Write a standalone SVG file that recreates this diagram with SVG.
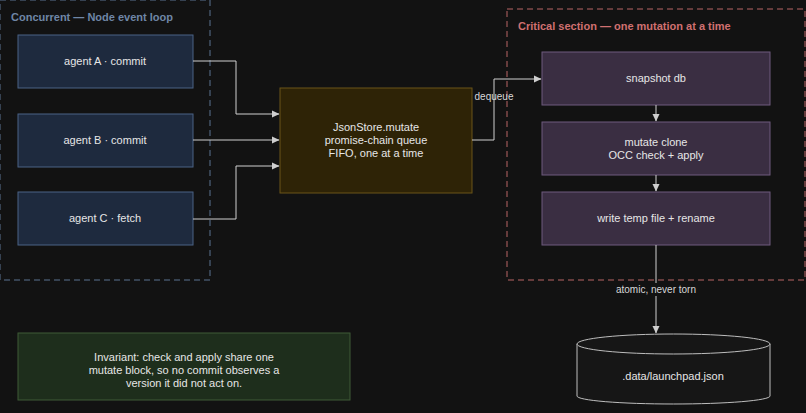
<svg xmlns="http://www.w3.org/2000/svg" width="806" height="413" viewBox="0 0 806 413">
<style>
text{font-family:"Liberation Sans",Arial,sans-serif;font-size:11px;fill:#e6e6e6;text-anchor:middle}
.agent{fill:#1e2a3e;stroke:#4a6285;stroke-width:1}
.step{fill:#3a2e42;stroke:#6e5a7e;stroke-width:1}
.edge{fill:none;stroke:#cfcfcf;stroke-width:1}
.lbl{font-size:10px;fill:#d8d8d8}
</style>
<defs><marker id="ah" markerWidth="8" markerHeight="8" refX="7" refY="4" orient="auto" markerUnits="userSpaceOnUse"><path d="M0,0.5L7.5,4L0,7.5z" fill="#cfcfcf"/></marker></defs>
<rect width="806" height="413" fill="#121212"/>
<g id="cluster-concurrent"><rect x="0" y="0" width="210" height="280" fill="none" stroke="#5b7391" stroke-dasharray="6,4"/>
<text x="11" y="21" style="text-anchor:start;font-weight:bold;fill:#6f86a6">Concurrent — Node event loop</text></g>
<g id="cluster-critical"><rect x="507" y="9" width="298" height="271" fill="none" stroke="#b86464" stroke-dasharray="6,4"/>
<text x="518" y="30" style="text-anchor:start;font-weight:bold;fill:#d07070">Critical section — one mutation at a time</text></g>
<g id="agentA"><rect class="agent" x="18" y="35" width="175" height="53"/><text x="105" y="65">agent A · commit</text></g>
<g id="agentB"><rect class="agent" x="18" y="114" width="175" height="53"/><text x="105" y="144">agent B · commit</text></g>
<g id="agentC"><rect class="agent" x="18" y="192" width="175" height="53"/><text x="105" y="222">agent C · fetch</text></g>
<g id="queue"><rect x="280" y="88" width="192" height="105" fill="#2e2306" stroke="#6a5418"/>
<text x="376" y="131">JsonStore.mutate</text><text x="376" y="144">promise-chain queue</text><text x="376" y="157">FIFO, one at a time</text></g>
<g id="snapshot"><rect class="step" x="542" y="52" width="228" height="53"/><text x="656" y="82">snapshot db</text></g>
<g id="mutate"><rect class="step" x="542" y="122" width="228" height="53"/><text x="656" y="146">mutate clone</text><text x="656" y="159">OCC check + apply</text></g>
<g id="write"><rect class="step" x="542" y="192" width="228" height="53"/><text x="656" y="222">write temp file + rename</text></g>
<g id="db"><path d="M577,344 L577,396 A96.5,8 0 0 0 770,396 L770,344" fill="#161616" stroke="#bdbdbd"/>
<ellipse cx="673.5" cy="344" rx="96.5" ry="10" fill="#161616" stroke="#bdbdbd"/>
<text x="673" y="380">.data/launchpad.json</text></g>
<g id="invariant"><rect x="18" y="333" width="332" height="67" fill="#1e2e1c" stroke="#3e5a36"/>
<text x="184" y="361">Invariant: check and apply share one</text><text x="184" y="374">mutate block, so no commit observes a</text><text x="184" y="387">version it did not act on.</text></g>
<g id="connectors">
<path class="edge" d="M193,61H236V114H279" marker-end="url(#ah)"/>
<path class="edge" d="M193,140H279" marker-end="url(#ah)"/>
<path class="edge" d="M193,219H236V166H279" marker-end="url(#ah)"/>
<path class="edge" d="M472,140H494V79H541" marker-end="url(#ah)"/>
<text class="lbl" x="494" y="100">dequeue</text>
<path class="edge" d="M656,105V121" marker-end="url(#ah)"/>
<path class="edge" d="M656,175V191" marker-end="url(#ah)"/>
<path class="edge" d="M656,245V333" marker-end="url(#ah)"/>
<rect x="614" y="283" width="84" height="13" fill="#121212"/>
<text class="lbl" x="656" y="293">atomic, never torn</text>
</g>
</svg>
